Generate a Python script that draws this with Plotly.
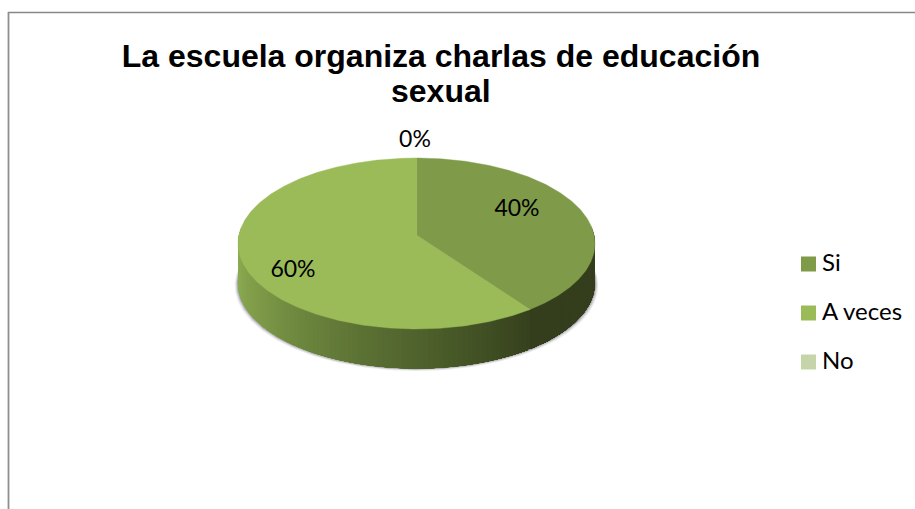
import math
import plotly.graph_objects as go

# Chart data
categories = ['Si', 'A veces', 'No']
values = [40, 60, 0]
title_lines = ['La escuela organiza charlas de educación', 'sexual']

top_colors = ['#7F9A48', '#9BBB59', '#C6D5A9']
side_stops = {
    'A veces': [(0.0, (150, 182, 86)), (0.3, (125, 154, 72)), (0.6, (92, 114, 52)), (1.0, (53, 64, 29))],
    'Si': [(0.0, (48, 58, 26)), (0.12, (52, 62, 28)), (1.0, (52, 62, 28))],
}

# Pie geometry in window pixels (axes below are 1:1 with the window)
CX, CY = 416.5, 235
A, B, K = 177.6, 84.65, 0.0994
DEPTH = 39.5


def project(deg, drop=0.0):
    """Tilted disc: degrees clockwise from 12 o'clock to pixel position."""
    u, v = math.sin(math.radians(deg)), math.cos(math.radians(deg))
    w = 1 + K * v
    return CX + A * u / w, CY + drop - B * v / w


def arc(start, end, drop=0.0, step=1.0):
    n = max(2, int(abs(end - start) / step) + 1)
    pts = [project(start + (end - start) * i / (n - 1), drop) for i in range(n)]
    return [p[0] for p in pts], [p[1] for p in pts]


def blend(stops, f):
    for (f0, c0), (f1, c1) in zip(stops, stops[1:]):
        if f <= f1:
            t = (f - f0) / (f1 - f0)
            return 'rgb(%d,%d,%d)' % tuple(c0[i] + (c1[i] - c0[i]) * t for i in range(3))
    return 'rgb(%d,%d,%d)' % stops[-1][1]


fig = go.Figure()


def add_poly(xs, ys, color, line=0.0):
    fig.add_trace(go.Scatter(
        x=xs, y=ys, mode='lines', fill='toself', fillcolor=color,
        line=dict(color=color, width=line), showlegend=False, hoverinfo='skip'
    ))


# Soft shadow under the rim
for grow, alpha in [(3.2, 0.12), (2.0, 0.22), (1.0, 0.35)]:
    xs, ys = arc(84, 276, DEPTH + grow * 0.8)
    xs = [CX + (x - CX) * (1 + grow / A) for x in xs]
    add_poly(xs + [CX], ys + [CY], f'rgba(90,90,100,{alpha})')

# Slice angles from the values
total = sum(values)
angles = []
cursor = 0.0
for v in values:
    angles.append((cursor, cursor + 360.0 * v / total))
    cursor += 360.0 * v / total

# Rim: painted over itself in steps, each strip runs on under the next so no seams show
VIS_START, VIS_END = 84.0, 276.0
for name, (a0, a1) in zip(categories, angles):
    if name not in side_stops:
        continue
    lo, hi = max(a0, VIS_START), min(a1, VIS_END)
    n = int((hi - lo) / 1.5) + 1
    for i in range(n):
        if name == 'A veces':
            # light at the far left, dark at the seam; stop short of the seam until the last strip
            s0 = lo if i == n - 1 else lo + 1
            s1 = hi - (hi - lo) * i / n
        else:
            s0, s1 = lo + (hi - lo) * i / n, hi
        xt, yt = arc(s0, s1, 0, 1.0)
        xb, yb = arc(s1, s0, DEPTH, 1.0)
        add_poly(xt + xb, yt + yb, blend(side_stops[name], i / n))

# Top faces
for (a0, a1), color in zip(angles, top_colors):
    if a1 - a0 <= 0:
        continue
    xs, ys = arc(a0, a1, step=0.5)
    add_poly([CX] + xs + [CX], [CY] + ys + [CY], color, 0.4)

# Legend swatches and names
legend_y = [264, 313, 362]
legend_text_y = [265, 314, 363]
fig.add_trace(go.Scatter(
    x=[808.5] * len(categories), y=legend_y, mode='markers',
    marker=dict(symbol='square', size=15, color=top_colors),
    showlegend=False, hoverinfo='skip'
))
fig.add_trace(go.Scatter(
    x=[822] * len(categories), y=legend_text_y, mode='text', text=categories,
    textposition='middle right',
    textfont=dict(family='Lato, Carlito, sans-serif', size=24, color='#000000'),
    showlegend=False, hoverinfo='skip'
))

# Percent labels
label_pos = {'Si': (517, 210), 'A veces': (293, 271), 'No': (415, 141)}
fig.add_trace(go.Scatter(
    x=[label_pos[c][0] for c in categories],
    y=[label_pos[c][1] for c in categories],
    mode='text',
    text=[f'{v}%' for v in values],
    textposition='middle center',
    textfont=dict(family='Lato, Carlito, sans-serif', size=23, color='#000000'),
    showlegend=False, hoverinfo='skip'
))

title_font = dict(family='Liberation Sans, Arial, sans-serif', size=32, color='#000000', weight='bold')
fig.update_layout(
    width=915, height=509, autosize=False,
    margin=dict(l=0, r=0, t=0, b=0),
    paper_bgcolor='#FFFFFF', plot_bgcolor='#FFFFFF',
    showlegend=False,
    title=dict(
        text=title_lines[0], x=441 / 915, xanchor='center',
        y=1 - 56 / 509, yanchor='middle', font=title_font
    ),
    annotations=[dict(
        text=title_lines[1], x=441, y=91, xref='x', yref='y',
        showarrow=False, font=title_font
    )],
    xaxis=dict(range=[0, 915], visible=False, fixedrange=True),
    yaxis=dict(range=[509, 0], visible=False, fixedrange=True),
    shapes=[
        dict(type='line', x0=8, x1=915, y0=12.5, y1=12.5, line=dict(color='#868686', width=1.3)),
        dict(type='line', x0=8.5, x1=8.5, y0=12, y1=509, line=dict(color='#8F8F8F', width=1.8)),
    ],
)

# The page's default body margin would push the chart 8px off the window corner
fig.write_html("out.html", config={'displayModeBar': False}, post_script="document.body.style.margin='0';")
